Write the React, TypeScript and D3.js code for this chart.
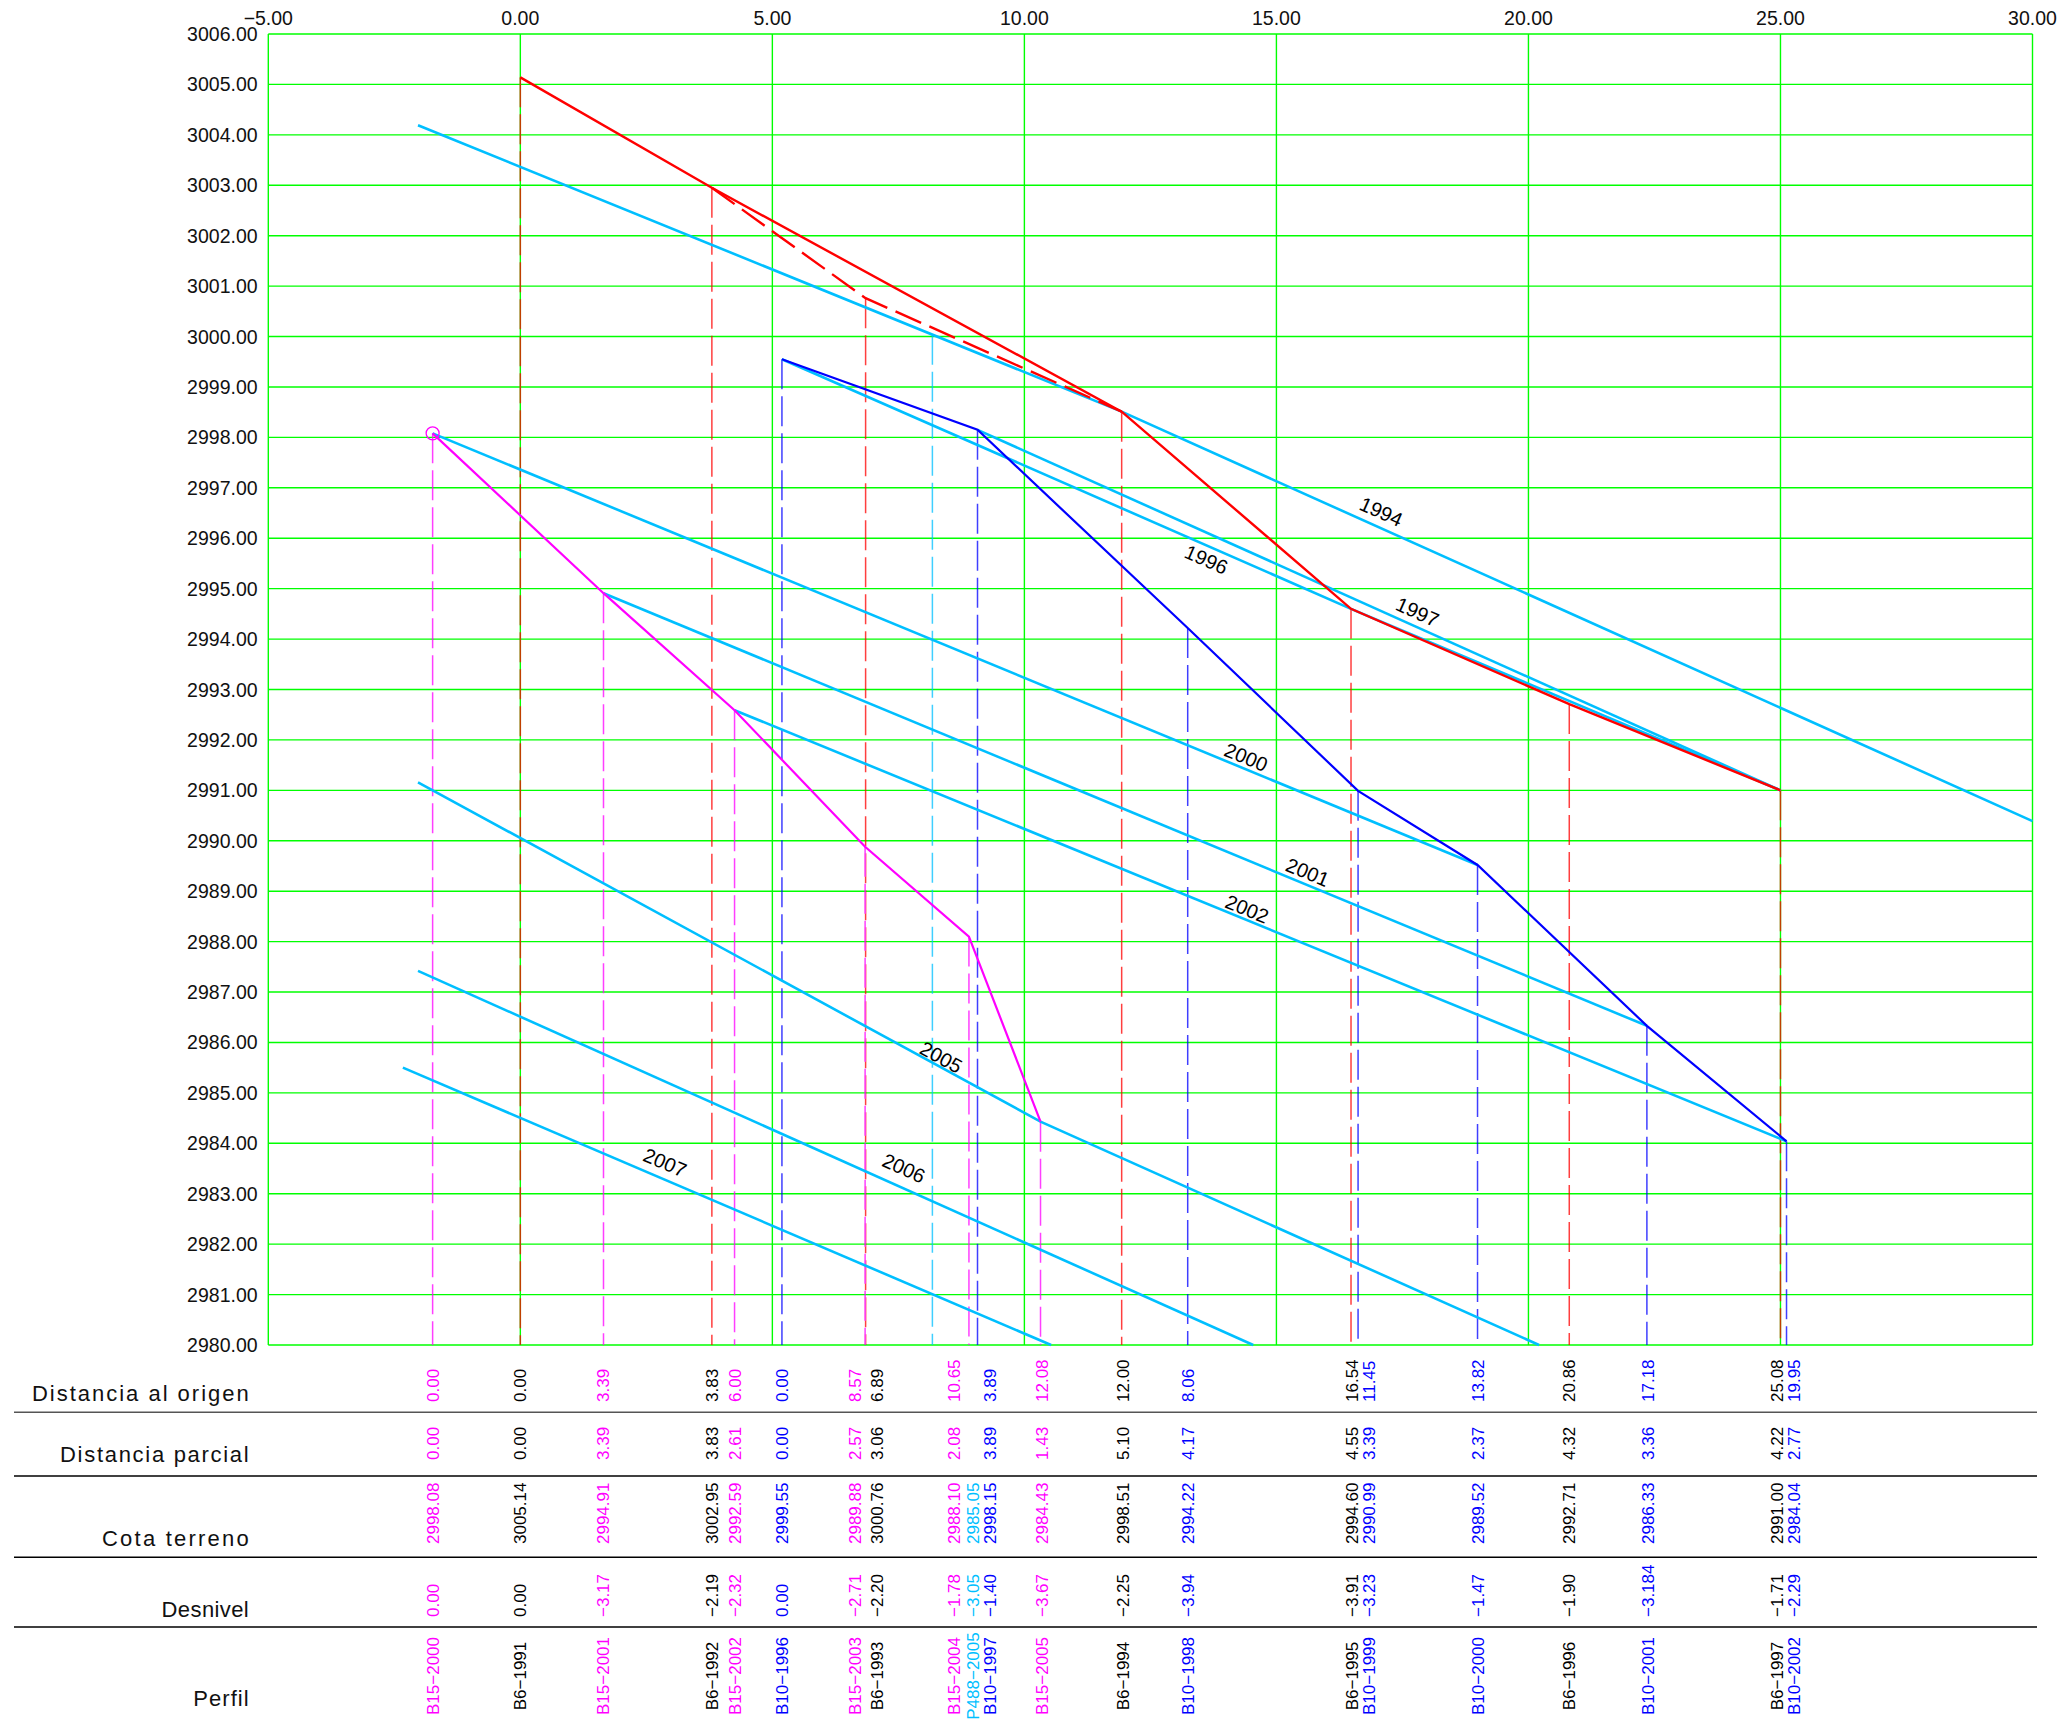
import React from "react";
import * as d3 from "d3";

// ---------------- DATA ----------------
const xTickValues = [-5, 0, 5, 10, 15, 20, 25, 30];
const xDomain = [-5, 30];
const yDomain = [2980, 3006];

// B6 profile (black text, red line)
const b6Years = [1991, 1992, 1993, 1994, 1995, 1996, 1997];
const b6Dist = [0.0, 3.83, 6.89, 12.0, 16.54, 20.86, 25.08];
const b6Parcial = [0.0, 3.83, 3.06, 5.1, 4.55, 4.32, 4.22];
const b6Cota = [3005.14, 3002.95, 3000.76, 2998.51, 2994.6, 2992.71, 2991.0];
const b6Desnivel = [0.0, -2.19, -2.2, -2.25, -3.91, -1.9, -1.71];
const b6Station = [0.0, 3.8, 6.85, 11.93, 16.48, 20.81, 25.0];
const b6TextAt = [0.0, 3.8, 7.07, 11.96, 16.49, 20.8, 24.92];
const b6SolidPath = [0, 1, 3, 4, 5, 6];
const b6DashedPath = [1, 2, 3];

// B10 profile (blue)
const b10Years = [1996, 1997, 1998, 1999, 2000, 2001, 2002];
const b10Dist = [0.0, 3.89, 8.06, 11.45, 13.82, 17.18, 19.95];
const b10Parcial = [0.0, 3.89, 4.17, 3.39, 2.37, 3.36, 2.77];
const b10Cota = [2999.55, 2998.15, 2994.22, 2990.99, 2989.52, 2986.33, 2984.04];
const b10Desnivel = [0.0, -1.4, -3.94, -3.23, -1.47, -3.184, -2.29];
const b10Station = [5.19, 9.07, 13.24, 16.62, 18.99, 22.35, 25.12];
const b10TextAt = [5.19, 9.31, 13.24, 16.83, 19.0, 22.36, 25.26];

// B15 profile (magenta)
const b15Years = [2000, 2001, 2002, 2003, 2004, 2005];
const b15Dist = [0.0, 3.39, 6.0, 8.57, 10.65, 12.08];
const b15Parcial = [0.0, 3.39, 2.61, 2.57, 2.08, 1.43];
const b15Cota = [2998.08, 2994.91, 2992.59, 2989.88, 2988.1, 2984.43];
const b15Desnivel = [0.0, -3.17, -2.32, -2.71, -1.78, -3.67];
const b15Station = [-1.74, 1.65, 4.25, 6.84, 8.9, 10.32];
const b15TextAt = [-1.74, 1.64, 4.26, 6.63, 8.6, 10.34];

// P488 point (cyan)
const p488Years = [2005];
const p488Cota = [2985.05];
const p488Desnivel = [-3.05];
const p488Station = [8.175];
const p488TextAt = [8.98];

// Yearly cyan lines (vertices: [distance, elevation])
const line1994 = [[-2.03, 3004.19], [11.93, 2998.51], [30.0, 2990.39]];
const line1996 = [[5.19, 2999.55], [16.48, 2994.6], [25.0, 2991.0]];
const line1997 = [[9.07, 2998.15], [25.0, 2991.0]];
const line2000 = [[-1.74, 2998.08], [18.99, 2989.52]];
const line2001 = [[1.65, 2994.91], [22.35, 2986.33]];
const line2002 = [[4.25, 2992.59], [25.12, 2984.04]];
const line2005 = [[-2.03, 2991.16], [10.32, 2984.43], [20.21, 2980.0]];
const line2006 = [[-2.03, 2987.42], [14.54, 2980.0]];
const line2007 = [[-2.33, 2985.5], [10.53, 2980.0]];

const yearLineNames = ["1994", "1996", "1997", "2000", "2001", "2002", "2005", "2006", "2007"];
const yearLines = [line1994, line1996, line1997, line2000, line2001, line2002, line2005, line2006, line2007];
const yearLabelX = [17.08, 13.61, 17.8, 14.4, 15.62, 14.42, 8.35, 7.61, 2.87];
const yearLabelY = [2996.53, 2995.58, 2994.54, 2991.66, 2989.38, 2988.65, 2985.71, 2983.51, 2983.62];

const rowLabels = ["Distancia al origen", "Distancia parcial", "Cota terreno", "Desnivel", "Perfil"];

// ---------------- LAYOUT / STYLE ----------------
const W = 2071;
const H = 1724;
const PLOT = { left: 268.3, right: 2032.5, top: 34, bottom: 1345 };
const FONT = "'Liberation Sans', Arial, sans-serif";
const GRID = "#00FF00";
const CYAN = "#00BFFF";

const rowLayout = [
  { left: 32, baseline: 1401, textStart: 1402, anchor: "start", key: "dist" },
  { left: 60, baseline: 1461.5, textStart: 1460, anchor: "start", key: "parcial" },
  { left: 102, baseline: 1546, textStart: 1544, anchor: "start", key: "cota" },
  { left: 161.6, baseline: 1617, textStart: 1617, anchor: "start", key: "desnivel" },
  { left: 193.3, baseline: 1706, textStart: 1676, anchor: "middle", key: "perfil" },
];
const labelRight = 248.7;
const separatorY = [1412.3, 1476, 1557.3, 1627];
const separatorColors = ["#555555", "#000000", "#000000", "#000000"];

const f2 = d3.format(".2f");
const fDes = (v: number) => (Math.abs(Math.round(v * 100) / 100 - v) > 1e-9 ? d3.format(".3f")(v) : f2(v));

type Entry = {
  station: number;
  textAt: number;
  cota: number;
  textColor: string;
  dist: string | null;
  parcial: string | null;
  cotaTxt: string;
  desnivel: string;
  perfil: string;
  vColor: string;
};

function buildEntries(
  prefix: string,
  years: number[],
  dist: number[] | null,
  parcial: number[] | null,
  cota: number[],
  des: number[],
  station: number[],
  textAt: number[],
  textColor: string,
  vColor: string
): Entry[] {
  return years.map((yr, i) => ({
    station: station[i],
    textAt: textAt[i],
    cota: cota[i],
    textColor,
    vColor,
    dist: dist ? f2(dist[i]) : null,
    parcial: parcial ? f2(parcial[i]) : null,
    cotaTxt: f2(cota[i]),
    desnivel: fDes(des[i]),
    perfil: `${prefix}\u2212${yr}`,
  }));
}

const b6Entries = buildEntries("B6", b6Years, b6Dist, b6Parcial, b6Cota, b6Desnivel, b6Station, b6TextAt, "#000000", "#FF0000");
const b10Entries = buildEntries("B10", b10Years, b10Dist, b10Parcial, b10Cota, b10Desnivel, b10Station, b10TextAt, "#0000FF", "#0000FF");
const b15Entries = buildEntries("B15", b15Years, b15Dist, b15Parcial, b15Cota, b15Desnivel, b15Station, b15TextAt, "#FF00FF", "#FF00FF");
const p488Entries = buildEntries("P488", p488Years, null, null, p488Cota, p488Desnivel, p488Station, p488TextAt, CYAN, CYAN);

function interpLine(line: number[][], x: number): number {
  for (let i = 0; i < line.length - 1; i++) {
    const [x1, y1] = line[i];
    const [x2, y2] = line[i + 1];
    if (x >= x1 && x <= x2) return y1 + ((y2 - y1) * (x - x1)) / (x2 - x1);
  }
  return line[line.length - 1][1];
}

export default function App() {
  const x = d3.scaleLinear().domain(xDomain).range([PLOT.left, PLOT.right]);
  const y = d3.scaleLinear().domain(yDomain).range([PLOT.bottom, PLOT.top]);
  const yTickValues = y.ticks(26);
  const lineGen = d3
    .line<number[]>()
    .x((d) => x(d[0]))
    .y((d) => y(d[1]));

  const allEntries = [...b15Entries, ...b6Entries, ...b10Entries, ...p488Entries];

  const b6Pts = b6Station.map((s, i) => [s, b6Cota[i]]);
  const b10Pts = b10Station.map((s, i) => [s, b10Cota[i]]);
  const b15Pts = b15Station.map((s, i) => [s, b15Cota[i]]);

  const verticals = [
    ...b6Entries.map((e) => ({ xv: e.station, top: e.cota, color: "#FF0000" })),
    ...b10Entries.map((e) => ({ xv: e.station, top: e.cota, color: "#0000FF" })),
    ...b15Entries.map((e) => ({ xv: e.station, top: e.cota, color: "#FF00FF" })),
    ...p488Entries.map((e) => ({ xv: e.station, top: interpLine(line1994, e.station), color: CYAN })),
  ];

  const labelAngle = (line: number[][], xv: number) => {
    let seg = 0;
    for (let i = 0; i < line.length - 1; i++) if (xv >= line[i][0] && xv <= line[i + 1][0]) seg = i;
    const dx = x(line[seg + 1][0]) - x(line[seg][0]);
    const dy = y(line[seg + 1][1]) - y(line[seg][1]);
    return (Math.atan2(dy, dx) * 180) / Math.PI;
  };

  return (
    <svg
      width={W}
      height={H}
      style={{ position: "absolute", left: 0, top: 0, background: "#ffffff" }}
      fontFamily={FONT}
    >
      <rect x={0} y={0} width={W} height={H} fill="#ffffff" />
      {/* grid */}
      <g stroke={GRID} strokeWidth={1.4}>
        {yTickValues.map((t) => (
          <line key={`h${t}`} x1={x(xDomain[0])} x2={x(xDomain[1])} y1={y(t)} y2={y(t)} />
        ))}
        {xTickValues.map((t) => (
          <line key={`v${t}`} x1={x(t)} x2={x(t)} y1={y(yDomain[0])} y2={y(yDomain[1])} />
        ))}
      </g>
      {/* axis labels */}
      <g fontSize={19.5} fill="#111">
        {yTickValues.map((t) => (
          <text key={`yl${t}`} x={257.6} y={y(t)} dy="0.36em" textAnchor="end">
            {f2(t)}
          </text>
        ))}
        {xTickValues.map((t) => (
          <text key={`xl${t}`} x={x(t)} y={25} textAnchor="middle">
            {f2(t)}
          </text>
        ))}
      </g>
      {/* dashed verticals */}
      <g strokeWidth={1.5} strokeDasharray="30,7" opacity={0.75}>
        {verticals.map((v, i) => (
          <line key={`vd${i}`} x1={x(v.xv)} x2={x(v.xv)} y1={y(v.top)} y2={y(yDomain[0])} stroke={v.color} />
        ))}
      </g>
      {/* yearly cyan lines */}
      <g fill="none" stroke={CYAN} strokeWidth={2.6}>
        {yearLines.map((ln, i) => (
          <path key={`yl${i}`} d={lineGen(ln) || ""} />
        ))}
      </g>
      {/* profiles */}
      <path d={lineGen(b6SolidPath.map((i) => b6Pts[i])) || ""} fill="none" stroke="#FF0000" strokeWidth={2.4} />
      <path
        d={lineGen(b6DashedPath.map((i) => b6Pts[i])) || ""}
        fill="none"
        stroke="#FF0000"
        strokeWidth={2.4}
        strokeDasharray="28,9"
      />
      <path d={lineGen(b10Pts) || ""} fill="none" stroke="#0000FF" strokeWidth={2.2} />
      <path d={lineGen(b15Pts) || ""} fill="none" stroke="#FF00FF" strokeWidth={2.2} />
      <circle cx={x(b15Pts[0][0])} cy={y(b15Pts[0][1])} r={6.5} fill="none" stroke="#FF00FF" strokeWidth={1.3} />
      {/* year labels */}
      <g fontSize={20} fill="#000">
        {yearLineNames.map((nm, i) => (
          <text
            key={`ylab${nm}`}
            transform={`translate(${x(yearLabelX[i])},${y(yearLabelY[i])}) rotate(${labelAngle(yearLines[i], yearLabelX[i])})`}
            textAnchor="middle"
            dy="0.36em"
          >
            {nm}
          </text>
        ))}
      </g>
      {/* table */}
      <g>
        {separatorY.map((sy, i) => (
          <line key={`sep${i}`} x1={14} x2={2037} y1={sy} y2={sy} stroke={separatorColors[i]} strokeWidth={1.5} />
        ))}
        {rowLayout.map((r, i) => (
          <text
            key={`rl${i}`}
            x={r.left}
            y={r.baseline}
            fontSize={22}
            fill="#111"
            textLength={labelRight - r.left}
            lengthAdjust="spacing"
          >
            {rowLabels[i]}
          </text>
        ))}
        {allEntries.map((e, j) =>
          rowLayout.map((r) => {
            const val =
              r.key === "dist"
                ? e.dist
                : r.key === "parcial"
                ? e.parcial
                : r.key === "cota"
                ? e.cotaTxt
                : r.key === "desnivel"
                ? e.desnivel
                : e.perfil;
            if (val === null) return null;
            return (
              <text
                key={`c${j}${r.key}`}
                transform={`translate(${x(e.textAt)},${r.textStart}) rotate(-90)`}
                dy="0.36em"
                fontSize={17}
                textAnchor={r.anchor}
                fill={e.textColor}
              >
                {val}
              </text>
            );
          })
        )}
      </g>
    </svg>
  );
}
